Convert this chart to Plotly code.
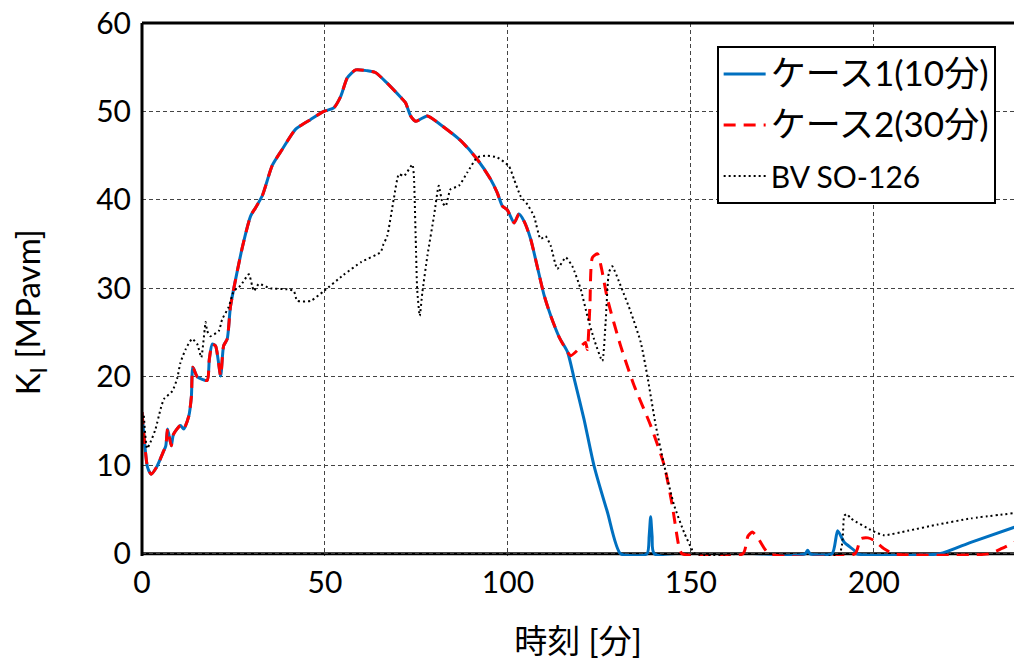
import plotly.graph_objects as go

# Stress intensity factor K_I history (time in minutes)
# Cases 1 and 2 coincide up to ~116 min, then each has its own tail.
common_time = [0.0, 0.5, 1.5, 2.5, 4.0, 5.9, 6.5, 7.0, 8.0, 8.6, 10.5, 11.4, 12.8, 13.5,
               13.9, 15.1, 17.8, 18.4, 19.2, 20.1, 21.5, 22.3, 23.3, 24.2, 27.4, 29.7,
               31.0, 32.9, 35.6, 38.3, 42.0, 46.1, 49.7, 52.4, 54.3, 56.1, 58.4, 61.6,
               63.8, 67.0, 70.7, 72.0, 73.4, 74.8, 78.0, 81.6, 87.1, 91.6, 95.3, 97.1,
               98.5, 99.8, 101.7, 103.0, 104.4, 106.2, 108.0, 109.9, 111.7, 114.0, 116.3]
common_ki = [16.0, 13.5, 9.8, 9.0, 9.8, 11.6, 12.2, 14.1, 12.2, 13.5, 14.5, 14.1, 15.6, 17.8,
             21.1, 20.0, 19.6, 22.0, 23.7, 23.5, 20.1, 23.5, 24.3, 28.0, 34.6, 38.2,
             39.1, 40.5, 43.9, 45.7, 48.0, 49.1, 50.0, 50.4, 51.7, 53.8, 54.7, 54.6,
             54.4, 53.2, 51.6, 51.0, 49.5, 48.9, 49.5, 48.5, 46.7, 44.6, 42.3, 40.8,
             39.3, 38.9, 37.4, 38.4, 37.6, 35.6, 32.5, 29.2, 26.9, 24.5, 22.8]

case1_tail_time = [118.1, 120.8, 123.5, 127.2, 130.8, 138.0, 138.6, 139.0, 139.4, 140.0,
                   181.2, 181.9, 182.6, 188.6, 190.1, 191.9, 194.6, 195.4, 217.9, 226.5,
                   238.4]
case1_tail_ki = [19.8, 15.2, 10.0, 4.7, 0.0, 0.0, 2.0, 4.2, 2.0, 0.0,
                 0.0, 0.4, 0.0, 0.0, 2.6, 1.3, 0.4, 0.0, 0.0, 1.3,
                 3.0]

case2_tail_time = [117.2, 119.0, 121.2, 121.7, 122.4, 123.1, 124.5, 125.6, 127.2, 130.8,
                   134.5, 139.0, 142.7, 144.9, 146.7, 147.6, 164.2, 165.6, 166.8, 168.6,
                   171.4, 194.8, 196.4, 198.4, 200.1, 202.8, 205.5, 231.5, 235.0, 238.4]
case2_tail_ki = [22.4, 23.0, 23.9, 23.1, 28.0, 33.5, 33.9, 32.2, 28.8, 23.5,
                 19.0, 14.5, 10.0, 5.5, 0.9, 0.0, 0.0, 2.0, 2.45, 1.6,
                 0.0, 0.0, 1.7, 1.8, 1.5, 0.56, 0.0, 0.0, 0.6, 1.3]

bv_time = [0.5, 1.4, 2.3, 3.7, 5.1, 6.0, 8.3, 9.6, 10.5, 11.9, 13.7, 15.1, 16.2, 17.4,
           17.8, 18.7, 21.0, 21.9, 23.7, 25.1, 26.9, 29.2, 30.1, 30.6, 31.9, 35.1,
           39.7, 41.5, 42.4, 46.1, 49.7, 55.0, 60.0, 65.2, 66.0, 67.0, 68.8, 70.2,
           71.6, 73.9, 74.3, 74.8, 75.2, 75.9, 76.6, 78.0, 79.8, 81.1, 82.1, 83.0,
           84.3, 86.6, 88.9, 91.6, 94.4, 97.1, 100.3, 101.7, 103.5, 105.3, 107.1,
           108.9, 110.3, 111.7, 113.5, 115.8, 117.6, 119.9, 121.7, 123.5, 125.8,
           126.7, 127.6, 128.5, 130.8, 133.6, 136.3, 138.1, 140.4, 142.7, 145.4,
           148.1, 150.4, 151.2, 190.5, 191.9, 192.6, 193.7, 199.6, 202.8, 209.2,
           217.4, 226.5, 238.4]
bv_ki = [15.6, 11.9, 12.6, 14.1, 16.4, 17.5, 18.4, 19.8, 21.6, 23.1, 24.3, 23.7, 22.2, 26.2,
         25.2, 24.6, 25.2, 26.5, 27.9, 29.7, 30.3, 31.6, 30.3, 29.7, 30.5, 30.0,
         29.9, 29.7, 28.6, 28.6, 29.7, 31.5, 33.0, 34.1, 35.0, 35.9, 40.1, 42.9,
         42.7, 44.0, 42.7, 35.6, 29.9, 26.9, 29.5, 33.7, 38.2, 41.6, 39.7, 39.3,
         41.2, 41.6, 43.1, 44.8, 45.0, 44.8, 43.8, 42.3, 40.4, 39.5, 38.2,
         35.6, 35.9, 34.8, 32.2, 33.5, 32.5, 29.9, 26.9, 24.3, 21.8,
         26.2, 31.8, 32.5, 30.3, 27.3, 23.9, 20.1, 14.5, 10.0, 5.5,
         2.45, 0.4, 0.0, 0.0, 4.3, 4.5, 4.0, 2.6, 2.1, 2.6,
         3.3, 4.0, 4.6]

x_ticks = [0, 50, 100, 150, 200]
y_ticks = [0, 10, 20, 30, 40, 50, 60]

FONT = "Lato, 'Noto Sans CJK JP', sans-serif"
BIG = '<span style="font-size:35px">{}</span>'

fig = go.Figure()
fig.add_trace(go.Scatter(
    x=common_time + case1_tail_time, y=common_ki + case1_tail_ki,
    mode="lines", name=BIG.format("ケース1(10分)"), legendgroup="c1",
    line=dict(color="#0070C0", width=3, shape="spline", smoothing=0.6),
))
fig.add_trace(go.Scatter(
    x=common_time + case2_tail_time, y=common_ki + case2_tail_ki,
    mode="lines", name=BIG.format("ケース2(30分)"), legendgroup="c2",
    line=dict(color="#FF0000", width=3, dash="12px,8px", shape="spline", smoothing=0.6),
))
fig.add_trace(go.Scatter(
    x=bv_time, y=bv_ki,
    mode="lines", name="BV SO-126", legendgroup="bv",
    line=dict(color="black", width=2, dash="2px,3px", shape="spline", smoothing=0.5),
))

fig.update_layout(
    width=1014, height=663,
    margin=dict(l=142, r=0, t=23, b=107),
    plot_bgcolor="white", paper_bgcolor="white",
    font=dict(family=FONT, size=30, color="black"),
    showlegend=True,
    legend=dict(
        x=0.659, y=0.957, xanchor="left", yanchor="top",
        bgcolor="white", bordercolor="black", borderwidth=2,
        font=dict(family=FONT, size=30, color="black"),
        itemwidth=42, tracegroupgap=9,
    ),
    shapes=[
        # bottom frame at K=0 (curves resting on zero draw over it)
        dict(type="line", xref="paper", yref="y", x0=0, x1=1, y0=0, y1=0,
             line=dict(color="black", width=3), layer="below"),
        # top frame
        dict(type="line", xref="paper", yref="paper", x0=0, x1=1, y0=1, y1=1,
             line=dict(color="black", width=3), layer="above"),
        # left frame
        dict(type="line", xref="paper", yref="paper", x0=0, x1=0, y0=0, y1=1,
             line=dict(color="black", width=3), layer="above"),
    ],
    annotations=[
        # vertical axis title
        dict(text="K<sub>I</sub> [MPavm]", xref="paper", yref="paper",
             x=-0.128, y=0.458, xanchor="center", yanchor="middle",
             textangle=-90, showarrow=False, font=dict(size=33, color="black")),
    ],
)

fig.update_xaxes(
    range=[0, 238.3], tickvals=x_ticks, ticks="",
    showgrid=True, gridcolor="#444444", gridwidth=1, griddash="4px,3px",
    zeroline=False, showline=False,
    tickfont=dict(size=30), ticklabelstandoff=6,
    title=dict(text="時刻 [分]", font=dict(size=33), standoff=31),
)
fig.update_yaxes(
    range=[-0.25, 60], tickvals=y_ticks, ticks="",
    showgrid=True, gridcolor="#444444", gridwidth=1, griddash="4px,3px",
    zeroline=False, showline=False,
    tickfont=dict(size=30), ticklabelstandoff=10,
)

fig.write_html("out.html")
